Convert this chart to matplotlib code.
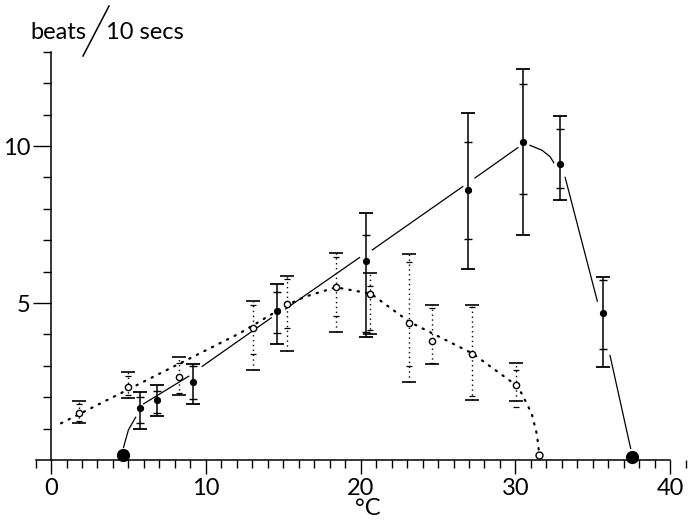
import numpy as np
import matplotlib.pyplot as plt
from matplotlib.lines import Line2D
from matplotlib.ticker import MultipleLocator, FixedLocator

plt.rcParams['font.family'] = ['Lato', 'DejaVu Sans']

# ============================================================
# 数据
# ============================================================
# 实心点: 温度, 均值, 外误差限, 内误差限
filled_x = [5.75, 6.85, 9.17, 14.58, 20.33, 26.92, 30.51, 32.88, 35.68]
filled_y = [1.66, 1.91, 2.49, 4.75, 6.34, 8.60, 10.14, 9.42, 4.69]
filled_hi = [2.16, 2.39, 3.06, 5.61, 7.88, 11.05, 12.45, 10.96, 5.83]
filled_lo = [0.99, 1.40, 1.79, 3.69, 3.93, 6.07, 7.17, 8.28, 2.95]
filled_hi2 = [2.02, 2.20, 2.99, 5.35, 7.17, 10.14, 11.96, 10.54, 5.72]
filled_lo2 = [1.18, 1.50, 1.94, 4.05, 4.09, 7.05, 8.46, 8.67, 3.54]
filled_end_x = [4.65, 37.5]
filled_end_y = [0.16, 0.11]

# 空心点
open_x = [1.83, 4.99, 8.27, 13.03, 15.27, 18.41, 20.6, 23.15, 24.61, 27.22, 30.04]
open_y = [1.51, 2.34, 2.65, 4.21, 4.98, 5.50, 5.29, 4.37, 3.80, 3.37, 2.39]
open_hi = [1.88, 2.81, 3.27, 5.07, 5.87, 6.58, 5.95, 6.56, 4.95, 4.95, 3.08]
open_lo = [1.18, 1.98, 2.07, 2.86, 3.48, 4.09, 4.00, 2.48, 3.06, 1.91, 1.88]
open_hi2 = [1.79, 2.66, 3.08, 4.94, 5.76, 6.45, 5.55, 6.30, 4.85, 4.87, 2.87]
open_lo2 = [1.24, 2.07, 2.14, 3.38, 4.19, 4.59, 4.15, 2.99, 3.08, 2.04, 1.70]
open_end_x = [31.52]
open_end_y = [0.16]

# 实线 (手绘, 分段)
solid_segments = [
    ([4.67, 5.0, 5.49], [0.38, 0.96, 1.38]),
    ([5.95, 8.93], [1.78, 2.68]),
    ([9.73, 14.26], [2.97, 4.54]),
    ([15.12, 19.96], [4.80, 6.46]),
    ([20.72, 26.63], [6.68, 8.72]),
    ([27.35, 30.19], [8.97, 9.96]),
    ([30.9, 31.7, 32.24, 32.5], [10.03, 9.87, 9.66, 9.45]),
    ([33.2, 35.3], [9.02, 5.04]),
    ([36.1, 37.45], [3.35, 0.35]),
]

# 点线
dotted_x = [0.65, 12.2, 15.3, 16.4, 18.4, 20.65, 23.15, 27.2, 30.0, 30.4, 31.05, 31.37, 31.48, 31.52]
dotted_y = [1.17, 4.04, 4.95, 5.2, 5.5, 5.3, 4.4, 3.4, 2.4, 2.12, 1.48, 0.85, 0.47, 0.2]

x_labels = ['0', '10', '20', '30', '40']
y_labels = ['5', '10']


def _errs(y, lo, hi):
    y = np.array(y)
    return [y - np.array(lo), np.array(hi) - y]


fig = plt.figure(figsize=(6.89, 5.21), dpi=100)
ax = fig.add_axes([0.04035, 0.0869, 0.9549, 0.8438])
ax.set_xlim(-1.5, 41)
ax.set_ylim(-0.5, 13.5)

lw = 0.9
# 误差棒 - 实心
ax.errorbar(filled_x, filled_y, yerr=_errs(filled_y, filled_lo, filled_hi),
            fmt='none', ecolor='black', elinewidth=1.1, capsize=5, capthick=1.3)
ax.errorbar(filled_x, filled_y, yerr=_errs(filled_y, filled_lo2, filled_hi2),
            fmt='none', ecolor='black', elinewidth=0, capsize=3, capthick=1.0)
# 误差棒 - 空心 (点线)
eb2 = ax.errorbar(open_x, open_y, yerr=_errs(open_y, open_lo, open_hi),
                  fmt='none', ecolor='black', elinewidth=1.0, capsize=5, capthick=1.2)
eb2[2][0].set_linestyle((0, (1, 2.5)))
ax.errorbar(open_x, open_y, yerr=_errs(open_y, open_lo2, open_hi2),
            fmt='none', ecolor='black', elinewidth=0, capsize=2.5, capthick=0.9)

# 线
for sx, sy in solid_segments:
    ax.plot(sx, sy, color='black', lw=lw, solid_capstyle='butt')
ax.plot(dotted_x, dotted_y, color='black', lw=1.6, linestyle=(0, (0.6, 3.2)),
        dash_capstyle='round')

# 点
ax.plot(filled_x, filled_y, 'o', color='black', ms=4.2, zorder=5)
ax.plot(filled_end_x, filled_end_y, 'o', color='black', ms=8.5, zorder=5, clip_on=False)
ax.plot(open_x, open_y, 'o', mfc='white', mec='black', mew=1.0, ms=4.5, zorder=5)
ax.plot(open_end_x, open_end_y, 'o', mfc='white', mec='black', mew=1.0, ms=5, zorder=5,
        clip_on=False)

# 坐标轴
for s in ['top', 'right']:
    ax.spines[s].set_visible(False)
ax.spines['bottom'].set_bounds(-1.0, 40)
ax.spines['left'].set_bounds(0, 13)
ax.spines['bottom'].set_position(('data', 0))
ax.spines['left'].set_position(('data', 0))
for s in ['bottom', 'left']:
    ax.spines[s].set_linewidth(1.1)

ax.xaxis.set_major_locator(FixedLocator([0, 10, 20, 30, 40]))
ax.xaxis.set_minor_locator(MultipleLocator(1))
ax.set_xticklabels(x_labels)
ax.yaxis.set_major_locator(FixedLocator([5, 10]))
ax.yaxis.set_minor_locator(FixedLocator([1, 2, 3, 4, 6, 7, 8, 9, 11, 12, 13]))
ax.set_yticklabels(y_labels)
ax.tick_params(axis='x', which='major', direction='out', length=10, width=1.0, pad=3,
               labelsize=17)
ax.tick_params(axis='x', which='minor', direction='out', length=6, width=1.0)
ax.tick_params(axis='y', which='major', direction='out', length=13, width=1.0, pad=2,
               labelsize=17)
ax.tick_params(axis='y', which='minor', direction='out', length=6, width=1.0)

# 标签
fig.text(368 / 689, 1 - 515 / 521, '°C', fontsize=17, ha='center', va='baseline')
fig.text(30 / 689, 1 - 39 / 521, 'beats', fontsize=17, ha='left', va='baseline')
fig.text(106 / 689, 1 - 39 / 521, '10 secs', fontsize=17, ha='left', va='baseline')
fig.add_artist(Line2D([83 / 689, 109 / 689], [1 - 56 / 521, 1 - 6 / 521],
                      color='black', lw=1.1, transform=fig.transFigure))

fig.savefig('out.png', dpi=100)
